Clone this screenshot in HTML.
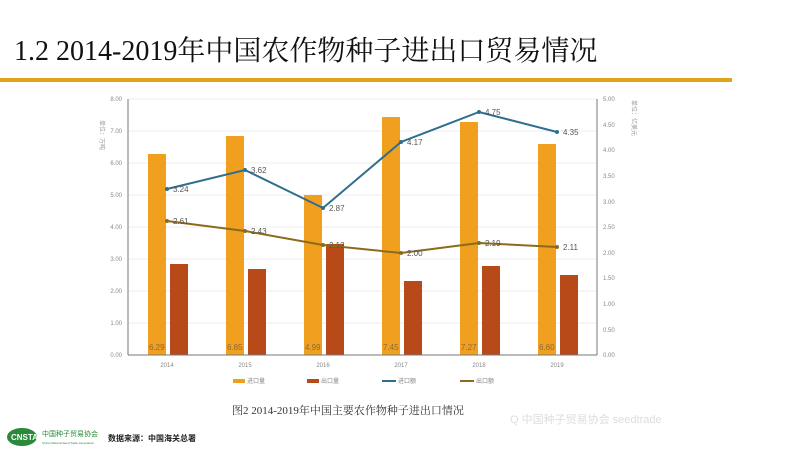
<!DOCTYPE html>
<html><head><meta charset="utf-8"><style>
body{margin:0;width:800px;height:450px;background:#fff;overflow:hidden;font-family:"Liberation Sans","Noto Sans CJK SC",sans-serif}
</style></head><body>
<svg width="800" height="450" xmlns="http://www.w3.org/2000/svg" font-family="Liberation Sans, Noto Sans CJK SC, sans-serif">
<text x="14" y="60" font-family="Liberation Serif, Noto Serif CJK SC, serif" font-size="28" fill="#111">1.2 2014-2019年中国农作物种子进出口贸易情况</text>
<rect x="0" y="78" width="732" height="4" fill="#e3a21c"/>
<g stroke="#eee" stroke-width="1">
<line x1="128" x2="597" y1="99" y2="99"/><line x1="128" x2="597" y1="131" y2="131"/><line x1="128" x2="597" y1="163" y2="163"/><line x1="128" x2="597" y1="195" y2="195"/><line x1="128" x2="597" y1="227" y2="227"/><line x1="128" x2="597" y1="259" y2="259"/><line x1="128" x2="597" y1="291" y2="291"/><line x1="128" x2="597" y1="323" y2="323"/>
</g>
<g font-size="6" fill="#888" text-anchor="end">
<text x="122" y="101">8.00</text><text x="122" y="133">7.00</text><text x="122" y="165">6.00</text><text x="122" y="197">5.00</text><text x="122" y="229">4.00</text><text x="122" y="261">3.00</text><text x="122" y="293">2.00</text><text x="122" y="325">1.00</text><text x="122" y="357">0.00</text>
</g>
<g font-size="6" fill="#888">
<text x="603" y="101">5.00</text><text x="603" y="127">4.50</text><text x="603" y="152">4.00</text><text x="603" y="178">3.50</text><text x="603" y="204">3.00</text><text x="603" y="229">2.50</text><text x="603" y="255">2.00</text><text x="603" y="280">1.50</text><text x="603" y="306">1.00</text><text x="603" y="332">0.50</text><text x="603" y="357">0.00</text>
</g>
<text font-size="6" fill="#999" transform="translate(100,120) rotate(90)">单位：万吨</text>
<text font-size="6" fill="#999" transform="translate(632,100) rotate(90)">单位：亿美元</text>
<g fill="#f0a01e">
<rect x="148" y="154" width="18" height="201"/><rect x="226" y="136" width="18" height="219"/><rect x="304" y="195" width="18" height="160"/><rect x="382" y="117" width="18" height="238"/><rect x="460" y="122" width="18" height="233"/><rect x="538" y="144" width="18" height="211"/>
</g>
<g fill="#b84a1a">
<rect x="170" y="264" width="18" height="91"/><rect x="248" y="269" width="18" height="86"/><rect x="326" y="244" width="18" height="111"/><rect x="404" y="281" width="18" height="74"/><rect x="482" y="266" width="18" height="89"/><rect x="560" y="275" width="18" height="80"/>
</g>
<line x1="128" y1="99" x2="128" y2="355" stroke="#777"/>
<line x1="597" y1="99" x2="597" y2="355" stroke="#777"/>
<line x1="128" y1="355" x2="597" y2="355" stroke="#777"/>
<g font-size="8" fill="#8a6a40">
<text x="149" y="350">6.29</text><text x="227" y="350">6.85</text><text x="305" y="350">4.99</text><text x="383" y="350">7.45</text><text x="461" y="350">7.27</text><text x="539" y="350">6.60</text>
</g>
<polyline points="167,189 245,170 323,208 401,142 479,112 557,132" fill="none" stroke="#2e6e8e" stroke-width="2"/>
<polyline points="167,221 245,231 323,245 401,253 479,243 557,247" fill="none" stroke="#8b6a1a" stroke-width="2"/>
<g fill="#2e6e8e"><circle cx="167" cy="189" r="2"/><circle cx="245" cy="170" r="2"/><circle cx="323" cy="208" r="2"/><circle cx="401" cy="142" r="2"/><circle cx="479" cy="112" r="2"/><circle cx="557" cy="132" r="2"/></g>
<g fill="#8b6a1a"><circle cx="167" cy="221" r="2"/><circle cx="245" cy="231" r="2"/><circle cx="323" cy="245" r="2"/><circle cx="401" cy="253" r="2"/><circle cx="479" cy="243" r="2"/><circle cx="557" cy="247" r="2"/></g>
<g font-size="8" fill="#555">
<text x="173" y="192">3.24</text><text x="251" y="173">3.62</text><text x="329" y="211">2.87</text><text x="407" y="145">4.17</text><text x="485" y="115">4.75</text><text x="563" y="135">4.35</text>
<text x="173" y="224">2.61</text><text x="251" y="234">2.43</text><text x="329" y="248">2.12</text><text x="407" y="256">2.00</text><text x="485" y="246">2.19</text><text x="563" y="250">2.11</text>
</g>
<g font-size="6" fill="#888" text-anchor="middle">
<text x="167" y="367">2014</text><text x="245" y="367">2015</text><text x="323" y="367">2016</text><text x="401" y="367">2017</text><text x="479" y="367">2018</text><text x="557" y="367">2019</text>
</g>
<g font-size="6" fill="#888">
<rect x="233" y="379" width="12" height="4" fill="#f0a01e"/><text x="247" y="383">进口量</text>
<rect x="307" y="379" width="12" height="4" fill="#b84a1a"/><text x="321" y="383">出口量</text>
<line x1="382" y1="381" x2="396" y2="381" stroke="#2e6e8e" stroke-width="2"/><text x="398" y="383">进口额</text>
<line x1="460" y1="381" x2="474" y2="381" stroke="#8b6a1a" stroke-width="2"/><text x="476" y="383">出口额</text>
</g>
<text x="232" y="414" font-size="11" fill="#333" font-family="Liberation Serif, Noto Serif CJK SC, serif">图2  2014-2019年中国主要农作物种子进出口情况</text>
<text x="510" y="423" font-size="11" fill="#ddd">Q 中国种子贸易协会 seedtrade</text>
<ellipse cx="22" cy="437" rx="15" ry="9" fill="#2a8a3a"/>
<text x="11" y="440" font-size="8" font-weight="bold" fill="#fff">CNSTA</text>
<text x="42" y="436" font-size="7" fill="#2a8a3a">中国种子贸易协会</text>
<text x="42" y="444" font-size="3" fill="#2a8a3a">China National Seed Trade Association</text>
<text x="108" y="441" font-size="8" font-weight="bold" fill="#222">数据来源：中国海关总署</text>
</svg>
</body></html>
